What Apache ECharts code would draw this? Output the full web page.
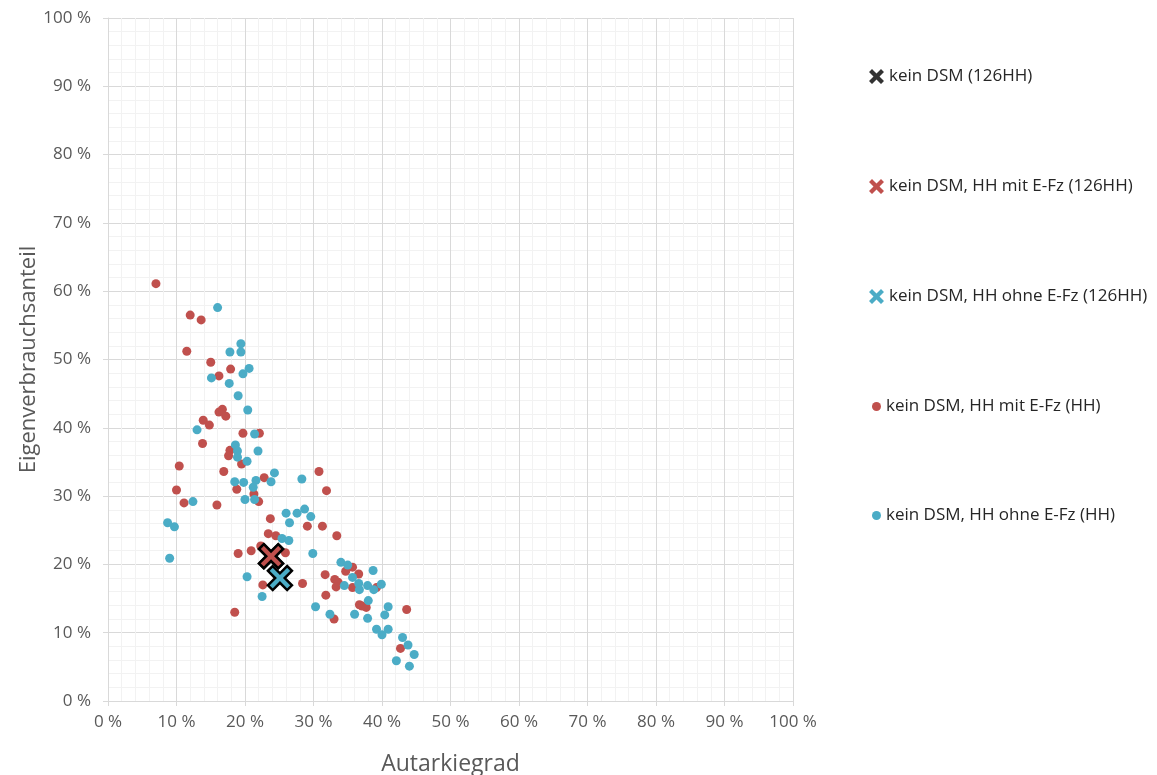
<!DOCTYPE html>
<html>
<head>
<meta charset="utf-8">
<script src="https://cdn.jsdelivr.net/npm/echarts@6/dist/echarts.min.js"></script>
<style>
  html, body { margin: 0; padding: 0; background: #fff; }
  #chart { width: 1157px; height: 775px; }
</style>
</head>
<body>
<div id="chart"></div>
<script>
// Daten (Autarkiegrad %, Eigenverbrauchsanteil %)
var seriesNames = [
  'kein DSM (126HH)',
  'kein DSM, HH mit E-Fz (126HH)',
  'kein DSM, HH ohne E-Fz (126HH)',
  'kein DSM, HH mit E-Fz (HH)',
  'kein DSM, HH ohne E-Fz (HH)'
];

var gesamt = [[23.8, 21.2]];
var gesamtMitEFz = [[23.8, 21.2]];
var gesamtOhneEFz = [[25.1, 18.0]];

var hhMitEFz = [
  [7.0, 61.1], [12.0, 56.5], [13.6, 55.8], [11.5, 51.2], [15.0, 49.6], [17.9, 48.6],
  [16.2, 47.6], [16.7, 42.7], [16.2, 42.3], [17.2, 41.7], [13.9, 41.1], [14.8, 40.4],
  [19.7, 39.2], [22.1, 39.2], [13.8, 37.7], [17.8, 36.7], [17.6, 35.9], [19.5, 34.7],
  [10.4, 34.4], [16.9, 33.6], [22.8, 32.7], [18.8, 31.0], [10.0, 30.9], [21.3, 30.3],
  [22.0, 29.2], [11.1, 29.0], [15.9, 28.7], [30.8, 33.6], [31.9, 30.8], [23.7, 26.7],
  [29.1, 25.6], [31.3, 25.6], [33.4, 24.2], [23.4, 24.5], [24.5, 24.2], [19.0, 21.6],
  [20.9, 22.0], [22.3, 22.7], [25.9, 21.7], [22.6, 17.0], [28.4, 17.2], [18.5, 13.0],
  [35.7, 19.6], [34.7, 19.0], [36.6, 18.6], [31.7, 18.5], [33.1, 17.8], [33.6, 17.4],
  [33.3, 16.7], [35.7, 16.6], [39.2, 16.6], [31.8, 15.5], [36.7, 14.1], [37.1, 13.9],
  [37.7, 13.7], [43.6, 13.4], [33.0, 12.0], [42.7, 7.7]
];

var hhOhneEFz = [
  [16.0, 57.6], [19.4, 52.3], [17.8, 51.1], [19.4, 51.1], [20.6, 48.7], [19.7, 47.9],
  [15.1, 47.3], [17.7, 46.5], [19.0, 44.7], [20.4, 42.6], [13.0, 39.7], [21.4, 39.1],
  [18.6, 37.5], [18.9, 36.6], [18.9, 35.7], [21.9, 36.6], [20.3, 35.1], [24.3, 33.4],
  [23.8, 32.1], [21.6, 32.3], [18.5, 32.1], [19.8, 32.0], [21.2, 31.3], [20.0, 29.5],
  [21.4, 29.5], [12.4, 29.2], [28.3, 32.5], [26.0, 27.5], [27.6, 27.5], [28.7, 28.1],
  [29.6, 27.0], [26.5, 26.1], [8.7, 26.1], [9.7, 25.5], [25.4, 23.8], [26.4, 23.5],
  [9.0, 20.9], [29.9, 21.6], [34.0, 20.3], [35.0, 19.9], [38.7, 19.1], [35.7, 18.1],
  [20.3, 18.2], [36.6, 17.2], [36.7, 16.3], [37.9, 16.9], [34.5, 16.9], [39.9, 17.1],
  [38.8, 16.3], [22.5, 15.3], [38.0, 14.7], [40.9, 13.8], [30.3, 13.8], [32.4, 12.7],
  [36.0, 12.7], [37.9, 12.1], [40.4, 12.6], [39.2, 10.5], [40.9, 10.5], [40.0, 9.7],
  [43.0, 9.3], [43.8, 8.2], [44.7, 6.8], [42.1, 5.9], [44.0, 5.1]
];

var farben = ['#000000', '#c0504d', '#4bacc6', '#c0504d', '#4bacc6'];

// Kreuz-Symbol
var kreuz = 'path://M2,0 L5,3 L8,0 L10,2 L7,5 L10,8 L8,10 L5,7 L2,10 L0,8 L3,5 L0,2 Z';

var myChart = echarts.init(document.getElementById('chart'));

var achseLabel = {
  color: '#595959',
  fontSize: 17,
  fontFamily: 'Open Sans',
  formatter: function (v) { return v + ' %'; }
};
var legendText = { color: '#262626', fontSize: 17, fontFamily: 'Open Sans' };

myChart.setOption({
  animation: false,
  grid: { left: 108, right: 364, top: 18, bottom: 74, outerBoundsMode: 'none', containLabel: false },
  xAxis: {
    type: 'value',
    min: 0, max: 100, interval: 10,
    minorTick: { show: true, splitNumber: 5, length: 0 },
    minorSplitLine: { show: true, lineStyle: { color: '#f2f2f2' } },
    splitLine: { lineStyle: { color: '#d9d9d9' } },
    axisLine: { lineStyle: { color: '#d9d9d9' } },
    axisTick: { show: true, length: 5, lineStyle: { color: '#d9d9d9' } },
    axisLabel: Object.assign({ margin: 13 }, achseLabel),
    name: 'Autarkiegrad',
    nameLocation: 'middle',
    nameGap: 52,
    nameMoveOverlap: false,
    nameTextStyle: { color: '#595959', fontSize: 23, fontFamily: 'Open Sans' }
  },
  yAxis: {
    type: 'value',
    min: 0, max: 100, interval: 10,
    minorTick: { show: true, splitNumber: 5, length: 0 },
    minorSplitLine: { show: true, lineStyle: { color: '#f2f2f2' } },
    splitLine: { lineStyle: { color: '#d9d9d9' } },
    axisLine: { show: true, lineStyle: { color: '#d9d9d9' } },
    axisTick: { show: true, length: 5, lineStyle: { color: '#d9d9d9' } },
    axisLabel: Object.assign({ margin: 17 }, achseLabel),
    name: 'Eigenverbrauchsanteil',
    nameLocation: 'middle',
    nameGap: 68,
    nameMoveOverlap: false,
    nameTextStyle: { color: '#595959', fontSize: 22, fontFamily: 'Open Sans' }
  },
  legend: [
    {
      orient: 'vertical',
      left: 864, top: 63,
      itemWidth: 15, itemHeight: 15,
      itemGap: 93,
      textStyle: legendText,
      data: [
        { name: seriesNames[0], icon: kreuz, itemStyle: { borderWidth: 0 } },
        { name: seriesNames[1], icon: kreuz, itemStyle: { borderWidth: 0 } },
        { name: seriesNames[2], icon: kreuz, itemStyle: { borderWidth: 0 } }
      ]
    },
    {
      orient: 'vertical',
      left: 867, top: 393,
      itemWidth: 9, itemHeight: 9,
      itemGap: 92,
      textStyle: legendText,
      data: [
        { name: seriesNames[3], icon: 'circle' },
        { name: seriesNames[4], icon: 'circle' }
      ]
    }
  ],
  series: [
    {
      name: seriesNames[3], type: 'scatter', data: hhMitEFz,
      symbolSize: 9, itemStyle: { color: farben[3], opacity: 1 }, z: 2
    },
    {
      name: seriesNames[4], type: 'scatter', data: hhOhneEFz,
      symbolSize: 9, itemStyle: { color: farben[4], opacity: 1 }, z: 3
    },
    {
      name: seriesNames[0], type: 'scatter', data: gesamt,
      symbol: kreuz, symbolSize: 24,
      itemStyle: { color: farben[0], borderColor: '#000', borderWidth: 2.5 }, z: 4
    },
    {
      name: seriesNames[1], type: 'scatter', data: gesamtMitEFz,
      symbol: kreuz, symbolSize: 24,
      itemStyle: { color: farben[1], borderColor: '#000', borderWidth: 2.5, opacity: 1 }, z: 5
    },
    {
      name: seriesNames[2], type: 'scatter', data: gesamtOhneEFz,
      symbol: kreuz, symbolSize: 24,
      itemStyle: { color: farben[2], borderColor: '#000', borderWidth: 2.5, opacity: 1 }, z: 6
    }
  ]
});
</script>
</body>
</html>
